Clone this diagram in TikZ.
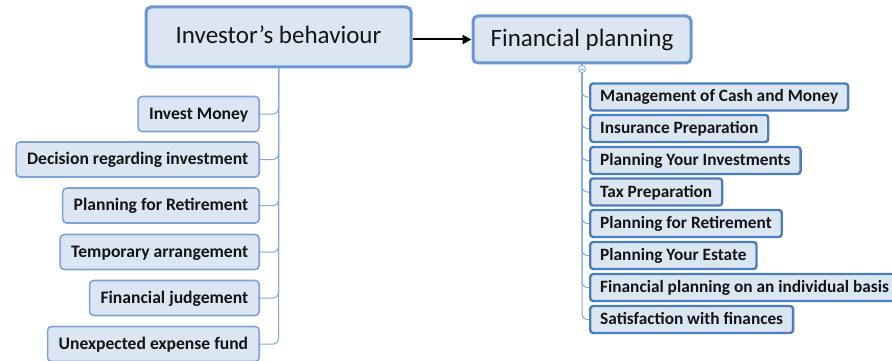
\documentclass[tikz,border=0pt]{standalone}
\usepackage{fontspec}
\setmainfont{Carlito}
\usetikzlibrary{arrows.meta}
\definecolor{boxfill}{HTML}{DCE6F2}
\definecolor{mainedge}{HTML}{6A97D2}
\definecolor{leftedge}{HTML}{7EA3D9}
\definecolor{rightedge}{HTML}{4C7EBD}
\definecolor{linkblue}{HTML}{86A9DB}
\definecolor{ink}{HTML}{141414}
\tikzset{
  topic/.style={draw=mainedge, line width=3pt, fill=boxfill, rounded corners=5pt,
    text=ink, font=\fontsize{25}{29}\selectfont, inner xsep=0pt,
    text height=18pt, text depth=4pt},
  leftitem/.style={draw=leftedge, line width=1.6pt, fill=boxfill, rounded corners=4pt,
    text=ink, font=\bfseries\fontsize{17.6}{20}\selectfont, anchor=east,
    inner xsep=11pt, minimum height=35pt, text height=13pt, text depth=3pt},
  rightitem/.style={draw=rightedge, line width=2.4pt, fill=boxfill, rounded corners=3pt,
    text=ink, font=\bfseries\fontsize{17.3}{20}\selectfont, anchor=west,
    inner xsep=10pt, minimum height=27pt, text height=13pt, text depth=3pt},
  link/.style={draw=linkblue, line width=1pt, rounded corners=5pt},
}
\begin{document}
\begin{tikzpicture}[x=1pt, y=-1pt]
\useasboundingbox (0,0) rectangle (892,361);

% central topics
\node[topic, minimum width=265pt, minimum height=60pt] (inv) at (278.5,37) {Investor’s behaviour};
\node[topic, minimum width=218pt, minimum height=47pt] (fin) at (582,39.5) {Financial planning};

% left branch items
\node[leftitem] (l1) at (260,114) {Invest Money};
\node[leftitem] (l2) at (260,159.5) {Decision regarding investment};
\node[leftitem] (l3) at (260,205.5) {Planning for Retirement};
\node[leftitem] (l4) at (260,252) {Temporary arrangement};
\node[leftitem] (l5) at (260,298) {Financial judgement};
\node[leftitem] (l6) at (260,344) {Unexpected expense fund};

% right branch items
\node[rightitem] (r1) at (589,97) {Management of Cash and Money};
\node[rightitem] (r2) at (589,128.5) {Insurance Preparation};
\node[rightitem] (r3) at (589,160.5) {Planning Your Investments};
\node[rightitem] (r4) at (589,192) {Tax Preparation};
\node[rightitem] (r5) at (589,223.5) {Planning for Retirement};
\node[rightitem] (r6) at (589,255.5) {Planning Your Estate};
\node[rightitem] (r7) at (589,287.5) {Financial planning on an individual basis};
\node[rightitem] (r8) at (589,319.5) {Satisfaction with finances};

% connectors
\foreach \c in {l1,l2,l3,l4,l5,l6} \draw[link] (inv.south) |- (\c.east);
\foreach \c in {r1,r2,r3,r4,r5,r6,r7,r8} \draw[link] (fin.south) |- (\c.west);

% collapse marker under the right topic
\node[circle, draw=linkblue, fill=white, line width=0.8pt, inner sep=0pt, minimum size=7pt] (fold) at (582,69) {};
\draw[linkblue, line width=0.8pt] ([xshift=-2pt]fold.center) -- ([xshift=2pt]fold.center);

% relation arrow
\draw[line width=2pt, -{Triangle[length=9pt,width=9pt]}] (inv.east |- fin.west) -- (fin.west);
\end{tikzpicture}
\end{document}
